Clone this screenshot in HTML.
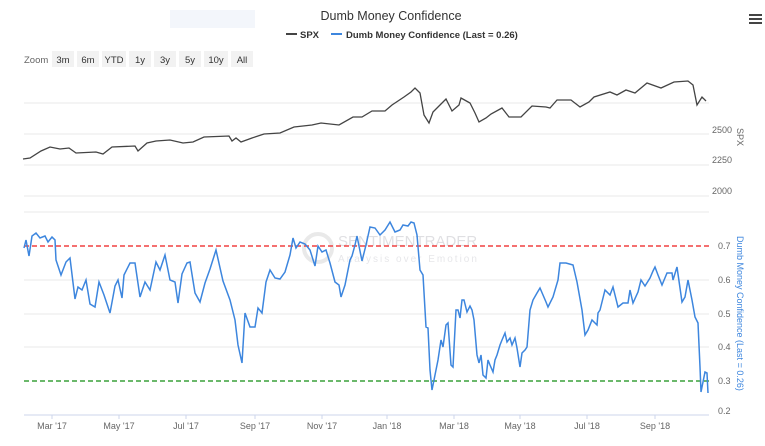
<!DOCTYPE html>
<html><head><meta charset="utf-8"><style>
body{margin:0;background:#fff;width:765px;height:441px;overflow:hidden;font-family:"Liberation Sans",sans-serif}
</style></head><body>
<svg width="765" height="441" xmlns="http://www.w3.org/2000/svg" font-family="Liberation Sans, sans-serif">
<rect x="170" y="10" width="85" height="18" fill="#f3f6fb"/>
<text x="391" y="20" text-anchor="middle" font-size="12.5" fill="#333">Dumb Money Confidence</text>
<line x1="286" y1="34" x2="297" y2="34" stroke="#444" stroke-width="2"/>
<text x="300" y="38" font-size="9.5" font-weight="bold" fill="#333">SPX</text>
<line x1="331" y1="34" x2="342" y2="34" stroke="#3d86de" stroke-width="2"/>
<text x="346" y="38" font-size="9.5" font-weight="bold" fill="#333">Dumb Money Confidence (Last = 0.26)</text>
<g fill="#444"><rect x="749" y="14" width="13" height="2"/><rect x="749" y="18" width="13" height="2"/><rect x="749" y="22" width="13" height="2"/></g>
<text x="24" y="63" font-size="9.5" fill="#666">Zoom</text>
<g font-size="9.5" fill="#333">
<rect x="52" y="51" width="22" height="16" fill="#f2f2f2"/><text x="63" y="63" text-anchor="middle">3m</text>
<rect x="77" y="51" width="22" height="16" fill="#f2f2f2"/><text x="88" y="63" text-anchor="middle">6m</text>
<rect x="102" y="51" width="24" height="16" fill="#f2f2f2"/><text x="114" y="63" text-anchor="middle">YTD</text>
<rect x="129" y="51" width="22" height="16" fill="#f2f2f2"/><text x="140" y="63" text-anchor="middle">1y</text>
<rect x="154" y="51" width="22" height="16" fill="#f2f2f2"/><text x="165" y="63" text-anchor="middle">3y</text>
<rect x="179" y="51" width="22" height="16" fill="#f2f2f2"/><text x="190" y="63" text-anchor="middle">5y</text>
<rect x="204" y="51" width="24" height="16" fill="#f2f2f2"/><text x="216" y="63" text-anchor="middle">10y</text>
<rect x="231" y="51" width="22" height="16" fill="#f2f2f2"/><text x="242" y="63" text-anchor="middle">All</text>
</g>
<g stroke="#e8e8e8" stroke-width="1">
<line x1="24" y1="103" x2="709" y2="103"/><line x1="24" y1="134" x2="709" y2="134"/>
<line x1="24" y1="165" x2="709" y2="165"/><line x1="24" y1="196" x2="709" y2="196"/>
<line x1="24" y1="212" x2="709" y2="212"/><line x1="24" y1="280" x2="709" y2="280"/>
<line x1="24" y1="314" x2="709" y2="314"/><line x1="24" y1="347" x2="709" y2="347"/>
</g>
<line x1="24" y1="415" x2="709" y2="415" stroke="#ccd6eb"/>
<g stroke="#ccd6eb"><line x1="52" y1="415" x2="52" y2="419"/><line x1="119" y1="415" x2="119" y2="419"/><line x1="186" y1="415" x2="186" y2="419"/><line x1="255" y1="415" x2="255" y2="419"/><line x1="322" y1="415" x2="322" y2="419"/><line x1="387" y1="415" x2="387" y2="419"/><line x1="454" y1="415" x2="454" y2="419"/><line x1="520" y1="415" x2="520" y2="419"/><line x1="587" y1="415" x2="587" y2="419"/><line x1="655" y1="415" x2="655" y2="419"/></g>
<g font-size="9" fill="#666" text-anchor="middle">
<text x="52" y="429">Mar '17</text><text x="119" y="429">May '17</text><text x="186" y="429">Jul '17</text><text x="255" y="429">Sep '17</text><text x="322" y="429">Nov '17</text><text x="387" y="429">Jan '18</text><text x="454" y="429">Mar '18</text><text x="520" y="429">May '18</text><text x="587" y="429">Jul '18</text><text x="655" y="429">Sep '18</text>
</g>
<g font-size="9" fill="#666">
<text x="712" y="133">2500</text><text x="712" y="163">2250</text><text x="712" y="194">2000</text>
<text x="718" y="249">0.7</text><text x="718" y="283">0.6</text><text x="718" y="317">0.5</text><text x="718" y="350">0.4</text><text x="718" y="384">0.3</text><text x="718" y="414">0.2</text>
</g>
<text transform="translate(737,128) rotate(90)" font-size="9" fill="#666">SPX</text>
<text transform="translate(737,236) rotate(90)" font-size="9" fill="#3d86de">Dumb Money Confidence (Last = 0.26)</text>
<g opacity="0.18"><circle cx="318" cy="248" r="14" fill="none" stroke="#888" stroke-width="4"/><text x="338" y="246" font-size="15" fill="#556">SENTIMENTRADER</text><text x="338" y="262" font-size="10" fill="#778" letter-spacing="2">Analysis over Emotion</text></g>
<line x1="24" y1="246" x2="709" y2="246" stroke="#f04040" stroke-width="1.5" stroke-dasharray="5,3"/>
<line x1="24" y1="381" x2="709" y2="381" stroke="#3aa03a" stroke-width="1.5" stroke-dasharray="5,3"/>
<polyline fill="none" stroke="#444" stroke-width="1.3" points="23,159 30,158 41,151 50,147 60,149 69,148 76,153 96,152 103,154 112,147 135,146 138,151 147,143 156,141 170,140 183,143 193,142 204,137 229,136 232,141 236,138 241,142 252,138 264,134 280,133 294,127 312,125 321,123 339,125 353,117 362,117 372,111 385,111 392,105 404,97 411,92 415,88 420,93 424,115 429,123 433,112 440,105 446,99 452,111 459,105 461,98 470,103 475,113 479,122 486,118 491,114 502,108 509,117 521,117 532,106 546,107 550,108 557,100 571,100 580,107 589,102 594,97 610,92 617,95 626,90 635,93 647,83 661,88 674,82 688,81 693,85 697,105 702,97 706,101"/>
<polyline fill="none" stroke="#3d86de" stroke-width="1.5" points="24,248 26,240 29,256 32,236 36,233 40,238 45,236 48,242 52,237 55,240 56,260 61,275 66,262 70,258 75,299 78,287 82,290 86,280 90,304 95,307 99,282 104,295 110,313 115,286 118,280 122,298 124,275 130,263 135,263 140,297 145,282 150,290 156,262 160,270 165,255 170,280 175,282 178,303 182,274 187,263 190,262 195,293 200,302 205,283 210,269 216,250 223,281 230,300 235,320 238,345 242,363 245,313 250,327 255,327 258,308 262,313 266,282 270,270 275,278 280,279 285,272 290,255 293,238 296,248 300,242 305,244 310,250 315,266 318,246 322,252 326,250 330,263 335,282 339,285 341,297 345,285 350,260 352,256 355,245 357,236 362,261 366,245 370,227 375,228 380,235 385,230 390,222 395,232 400,230 403,225 408,226 411,222 414,223 417,235 420,270 423,275 426,327 428,328 430,370 432,390 435,375 438,360 441,340 443,347 446,325 448,323 451,365 453,367 456,310 458,310 460,318 462,300 464,300 467,312 470,306 472,310 474,320 477,355 479,363 481,355 483,375 486,378 488,360 490,365 493,372 495,360 497,355 500,345 502,340 505,333 507,342 510,338 512,345 515,338 517,348 520,367 522,353 525,350 527,347 530,310 533,300 537,293 540,288 543,295 546,302 548,307 553,297 558,280 560,263 566,263 573,265 577,282 582,310 585,335 588,330 592,320 597,325 598,313 600,310 605,290 610,295 613,287 618,307 623,303 628,303 630,290 633,303 638,292 641,280 645,286 650,278 653,271 655,267 658,275 662,285 667,273 672,273 673,280 677,267 682,302 685,297 688,280 692,300 695,317 698,323 700,367 701,392 705,372 707,373 708,393"/>
</svg>
</body></html>
